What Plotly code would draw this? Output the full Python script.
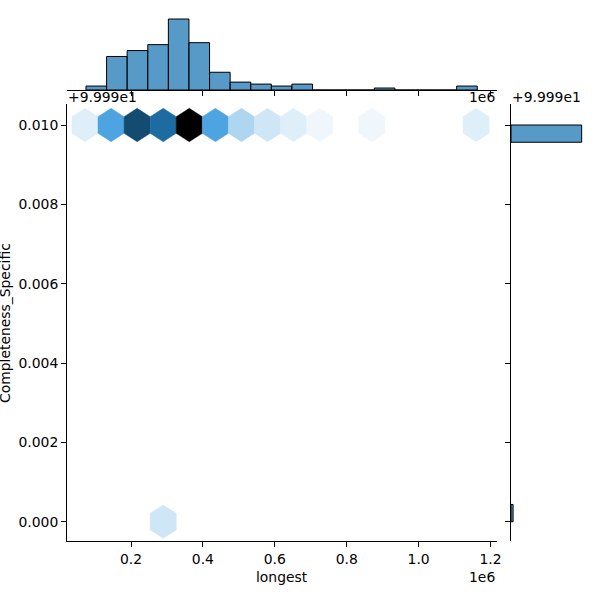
import colorsys
import numpy as np
import plotly.graph_objects as go

# ---------------- data ----------------
# top marginal histogram of "longest"
hist_start = 0.0748e6
hist_bin_width = 0.05728e6
hist_counts = [2, 17, 20, 23, 36, 24, 9, 4, 3, 2, 3, 0, 0, 0, 1, 0, 0, 0, 2]

# hexbin cells (x centre, y offset value, count)
hex_x = [0.0720e6, 0.1445e6, 0.2171e6, 0.2896e6, 0.3621e6, 0.4347e6,
         0.5072e6, 0.5797e6, 0.6522e6, 0.7248e6, 0.8698e6, 1.1600e6, 0.2896e6]
hex_y = [0.010] * 12 + [0.000]
hex_counts = [2, 11, 20, 17, 27, 11, 5, 3, 2, 1, 1, 2, 3]

# right marginal histogram of Completeness_Specific (offset from 99.99)
yhist_centers = [0.000217, 0.009783]
yhist_counts = [3, 102]
yhist_bin_width = 0.000435

x_ticks = [0.2e6, 0.4e6, 0.6e6, 0.8e6, 1.0e6, 1.2e6]
x_ticklabels = ["0.2", "0.4", "0.6", "0.8", "1.0", "1.2"]
y_ticks = [0.0, 0.002, 0.004, 0.006, 0.008, 0.010]
y_ticklabels = ["0.000", "0.002", "0.004", "0.006", "0.008", "0.010"]

# ---------------- style ----------------
W = H = 600
HEX_W = 0.07253e6
HEX_HH = 0.00042
FONT = "DejaVu Sans"
FS = 13.9
BAR_FILL = "rgba(31,119,180,0.75)"

C0 = (31 / 255, 119 / 255, 180 / 255)
h_, l_, s_ = colorsys.rgb_to_hls(*C0)
anchors = [colorsys.hls_to_rgb(h_, li, s_) for li in np.linspace(1, 0, 12)]


def cmap(f):
    f = min(max(f, 0.0), 1.0)
    pos = f * 11
    i = min(int(pos), 10)
    t = pos - i
    a, b = anchors[i], anchors[i + 1]
    c = [(a[k] + (b[k] - a[k]) * t) for k in range(3)]
    return "rgb(%d,%d,%d)" % tuple(int(round(v * 255)) for v in c)


def px_x(p):
    return p / W


def px_y(p):
    return 1 - p / H


fig = go.Figure()

# hexagons
vmax = max(hex_counts)
offs = [(0.5, -0.5), (0.5, 0.5), (0, 1), (-0.5, 0.5), (-0.5, -0.5), (0, -1), (0.5, -0.5)]
for cx, cy, c in zip(hex_x, hex_y, hex_counts):
    col = cmap(c / vmax)
    xs = [cx + dx * HEX_W for dx, dy in offs]
    ys = [cy + dy * HEX_HH for dx, dy in offs]
    fig.add_trace(go.Scatter(x=xs, y=ys, mode="lines", fill="toself",
                             fillcolor=col, line=dict(color=col, width=0.5),
                             hoverinfo="skip", showlegend=False,
                             xaxis="x", yaxis="y"))

# top marginal histogram
hist_centers = [hist_start + (i + 0.5) * hist_bin_width for i in range(len(hist_counts))]
fig.add_trace(go.Bar(x=hist_centers, y=hist_counts, width=hist_bin_width,
                     marker=dict(color=BAR_FILL, line=dict(color="black", width=1)),
                     showlegend=False, xaxis="x2", yaxis="y2"))

# right marginal histogram
fig.add_trace(go.Bar(y=yhist_centers, x=yhist_counts, width=yhist_bin_width,
                     orientation="h",
                     marker=dict(color=BAR_FILL, line=dict(color="black", width=1)),
                     showlegend=False, xaxis="x3", yaxis="y3"))

axis_common = dict(showgrid=False, zeroline=False, showline=True, linecolor="black",
                   linewidth=1.1, ticks="outside", ticklen=4.9, tickwidth=1.1,
                   tickcolor="black", automargin=False,
                   tickfont=dict(family=FONT, size=FS, color="black"))

fig.update_layout(
    width=W, height=H,
    margin=dict(l=0, r=0, t=0, b=0, autoexpand=False),
    plot_bgcolor="white", paper_bgcolor="white",
    font=dict(family=FONT, size=FS, color="black"),
    barmode="overlay",
    xaxis=dict(domain=[px_x(67), px_x(497)], range=[0.022e6, 1.218e6],
               tickvals=x_ticks, ticktext=x_ticklabels, anchor="y", **axis_common),
    yaxis=dict(domain=[px_y(541), px_y(104)], range=[-0.000487, 0.01053],
               tickvals=y_ticks, ticktext=y_ticklabels, anchor="x", **axis_common),
    xaxis2=dict(domain=[px_x(67), px_x(497)], matches="x", anchor="y2",
                tickvals=x_ticks, showticklabels=False, **axis_common),
    yaxis2=dict(domain=[px_y(90), px_y(15.45)], range=[0, max(hist_counts) * 1.05],
                anchor="x2", visible=False, automargin=False),
    xaxis3=dict(domain=[px_x(511), px_x(585.2)], range=[0, max(yhist_counts) * 1.05],
                anchor="y3", visible=False, automargin=False),
    yaxis3=dict(domain=[px_y(541), px_y(104)], matches="y", anchor="x3",
                tickvals=y_ticks, showticklabels=False, **axis_common),
)

ann = dict(xref="paper", yref="paper", showarrow=False,
           font=dict(family=FONT, size=FS, color="black"))
fig.add_annotation(text="+9.999e1", x=px_x(66), y=px_y(97), xanchor="left", yanchor="middle", **ann)
fig.add_annotation(text="+9.999e1", x=px_x(510), y=px_y(97), xanchor="left", yanchor="middle", **ann)
fig.add_annotation(text="1e6", x=px_x(497), y=px_y(97), xanchor="right", yanchor="middle", **ann)
fig.add_annotation(text="1e6", x=px_x(497), y=px_y(577), xanchor="right", yanchor="middle", **ann)
fig.add_annotation(text="longest", x=px_x(282), y=px_y(577), xanchor="center", yanchor="middle", **ann)
fig.add_annotation(text="Completeness_Specific", x=px_x(5), y=px_y(323), textangle=-90,
                   xanchor="center", yanchor="middle", **ann)

fig.write_html("out.html")
